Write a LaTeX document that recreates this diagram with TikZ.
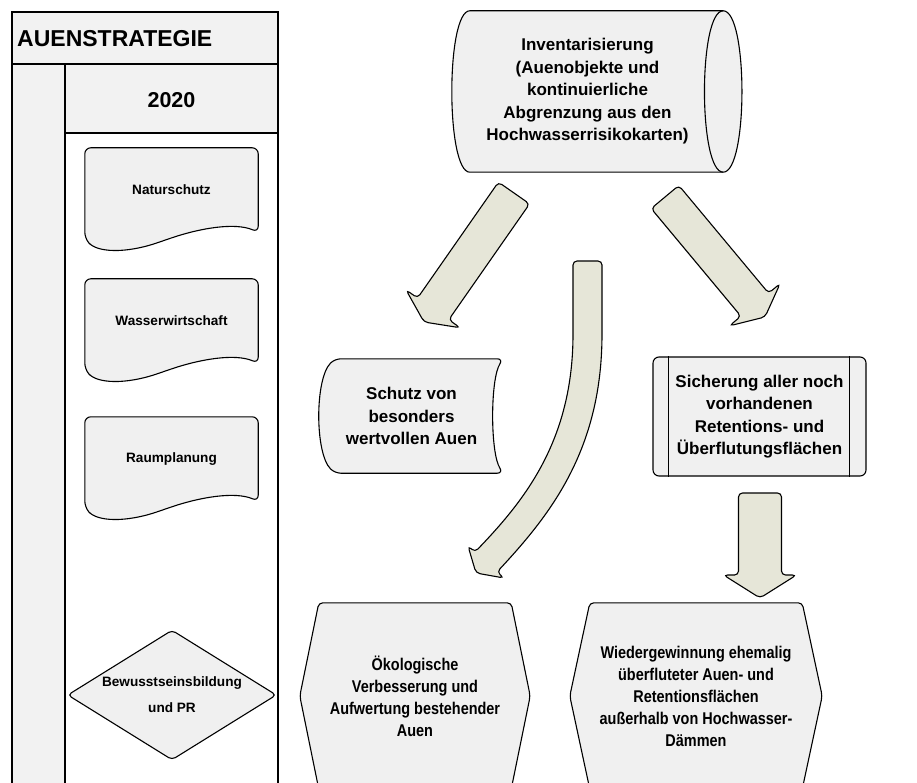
\documentclass[tikz,border=0pt]{standalone}
\usepackage{fontspec}
\setmainfont{Liberation Sans}
\newfontfamily\condfont[FakeStretch=0.85]{Liberation Sans}
\usetikzlibrary{calc,backgrounds}

\definecolor{boxgrey}{RGB}{240,240,240}
\definecolor{lanegrey}{RGB}{242,242,242}
\definecolor{arrowgrey}{RGB}{230,230,216}

\tikzset{
  shapebox/.style={draw, fill=boxgrey, line width=1.1pt, rounded corners=6pt},
  arrowbox/.style={draw, fill=arrowgrey, line width=1.1pt, rounded corners=4pt},
  laneline/.style={line width=1.5pt},
  titletext/.style={font=\bfseries\fontsize{23}{26}\selectfont, inner sep=0pt},
  lanetext/.style={font=\bfseries\fontsize{13.6}{26}\selectfont, align=center, inner sep=0pt},
  maintext/.style={font=\bfseries\fontsize{17}{22.5}\selectfont, align=center, inner sep=0pt},
  hextext/.style={font=\condfont\bfseries\fontsize{17}{22}\selectfont, align=center, inner sep=0pt},
}

\newcommand{\blockarrow}[5]{%
  \coordinate (hb) at ($(#2)!#5!(#1)$);
  \draw[arrowbox] ($(#1)!#3!90:(#2)$) -- ($(hb)!#3!-90:(#1)$) -- ($(hb)!#4!-90:(#1)$)
    -- (#2) -- ($(hb)!#4!90:(#1)$) -- ($(hb)!#3!90:(#1)$) -- ($(#1)!#3!-90:(#2)$) -- cycle;}

\newcommand{\docshape}[1]{%
  \draw[shapebox] (#1.north) -- (#1.north east) -- (#1.south east)
    .. controls ($(#1.south west)+(150,-10)$) and ($(#1.south west)+(115,-4)$) .. ($(#1.south west)+(80,8)$)
    .. controls ($(#1.south west)+(40,22)$) and ($(#1.south west)+(12,20)$) .. ($(#1.south west)+(0,6)$)
    -- (#1.north west) -- cycle;}

\newcommand{\hexshape}[2]{%
  \draw[shapebox, rounded corners=4pt] ($(#1.north west)+(#2,0)$) -- ($(#1.north east)+(-#2,0)$) -- (#1.east)
    -- ($(#1.south east)+(-#2,0)$) -- ($(#1.south west)+(#2,0)$) -- (#1.west) -- cycle;}

\begin{document}
\begin{tikzpicture}[x=1pt, y=-1pt]
  \useasboundingbox (0,0) rectangle (917,783);

  \fill[lanegrey] (12,12) rectangle (278,64);
  \fill[lanegrey] (12,64) rectangle (65,795);
  \fill[lanegrey] (65,64) rectangle (278,133);
  \draw[laneline] (12,795) -- (12,12) -- (278,12) -- (278,795);
  \draw[laneline] (12,64) -- (278,64);
  \draw[laneline] (65,64) -- (65,795);
  \draw[laneline] (65,133) -- (278,133);
  \node[titletext, anchor=west] (lane) at (17,39) {AUENSTRATEGIE};
  \node[titletext, font=\bfseries\fontsize{21.5}{24}\selectfont] (year) at (171.5,100) {2020};

  \node[lanetext, minimum width=173pt, minimum height=84pt] (nat) at (171.5,190) {Naturschutz};
  \node[lanetext, minimum width=173pt, minimum height=84pt] (wasser) at (171.5,321) {Wasserwirtschaft};
  \node[lanetext, minimum width=173pt, minimum height=84pt] (raum) at (171.5,459) {Raumplanung};
  \node[lanetext, minimum width=208pt, minimum height=129pt] (pr) at (172,695) {Bewusstseinsbildung\\und PR};

  \node[maintext, minimum width=271pt, minimum height=161pt] (inv) at (587.5,91.5) {Inventarisierung\\(Auenobjekte und\\kontinuierliche\\Abgrenzung aus den\\Hochwasserrisikokarten)};
  \node[maintext, minimum width=183pt, minimum height=114pt] (schutz) at (411.5,416) {Schutz von\\besonders\\wertvollen Auen};
  \node[maintext, shapebox, minimum width=213pt, minimum height=119pt] (sich) at (759.5,416.5) {Sicherung aller noch\\vorhandenen\\Retentions- und\\Überflutungsflächen};
  \node[hextext, minimum width=230pt, minimum height=186pt] (oeko) at (415,696) {Ökologische\\Verbesserung und\\Aufwertung bestehender\\Auen};
  \node[hextext, minimum width=252pt, minimum height=186pt] (wieder) at (696,696) {Wiedergewinnung ehemalig\\überfluteter Auen- und\\Retentionsflächen\\außerhalb von Hochwasser-\\Dämmen};

  \begin{pgfonlayer}{background}
    \fill[white] (0,0) rectangle (917,783);
    \docshape{nat}
    \docshape{wasser}
    \docshape{raum}
    \draw[shapebox, rounded corners=4pt] (pr.north) -- (pr.east) -- (pr.south) -- (pr.west) -- cycle;
    \draw[shapebox, rounded corners=0pt] (inv.north east) .. controls +(25,0) and +(25,0) .. (inv.south east)
      -- ($(inv.south west)+(18,0)$) .. controls +(-24,0) and +(-24,0) .. ($(inv.north west)+(18,0)$) -- cycle;
    \draw[line width=1.1pt] (inv.north east) .. controls +(-25,0) and +(-25,0) .. (inv.south east);
    \draw[shapebox] (schutz.north) -- (schutz.north east) .. controls +(-13,20) and +(-13,-20) .. (schutz.south east)
      -- ($(schutz.south west)+(15,0)$) .. controls +(-20,-20) and +(-20,20) .. ($(schutz.north west)+(15,0)$) -- cycle;
    \hexshape{oeko}{19}
    \hexshape{wieder}{20}
  \end{pgfonlayer}
  \draw[line width=1.1pt] ($(sich.north west)+(16,0)$) -- ($(sich.south west)+(16,0)$);
  \draw[line width=1.1pt] ($(sich.north east)+(-17,0)$) -- ($(sich.south east)+(-17,0)$);

  \coordinate (a1s) at (514,193);
  \coordinate (a1e) at (424,322);
  \coordinate (a2s) at (665,197);
  \coordinate (a2e) at (765,317);
  \coordinate (a3s) at (760,493);
  \coordinate (a3e) at (760,598);
  \blockarrow{a1s}{a1e}{19pt}{33pt}{16pt}
  \blockarrow{a2s}{a2e}{18pt}{33pt}{16pt}
  \blockarrow{a3s}{a3e}{21.5pt}{36.5pt}{23pt}
  \draw[arrowbox] (573,261) -- (602,261) -- (602,330) .. controls (602,450) and (550,515) .. (497,572)
    -- (504,578) -- (476,573) -- (468,546) -- (475,552) .. controls (525,500) and (573,440) .. (573,330) -- cycle;
\end{tikzpicture}
\end{document}
